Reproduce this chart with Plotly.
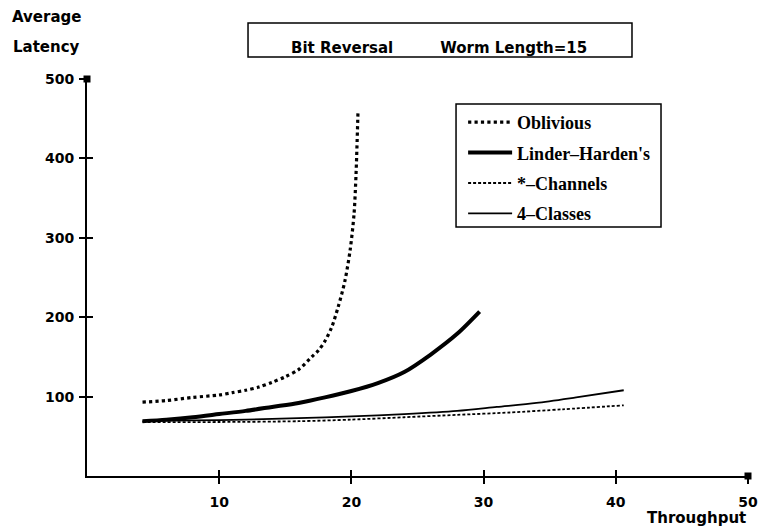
import plotly.graph_objects as go

# ---- data ----
obl_x = [4.2, 6, 8, 10, 11, 12, 13, 14, 15, 16, 17, 17.5, 18, 18.5, 19, 19.5, 19.9, 20.2, 20.35, 20.5]
obl_y = [93, 95, 99, 102, 105, 108, 112, 118, 125, 134, 150, 158, 170, 187, 213, 245, 284, 330, 380, 460]

lh_x = [4.2, 6, 8, 10, 12, 14, 16, 18, 20, 22, 24, 26, 28, 29.7]
lh_y = [69, 71, 74, 78, 82, 87, 92, 99, 107, 117, 131, 153, 179, 207]

ch_x = [4.2, 10, 16, 20, 24, 28, 32, 36, 40.6]
ch_y = [68, 68, 69, 71, 74, 77, 80, 84, 89]

c4_x = [4.2, 8, 12, 16, 20, 24, 28, 31, 34, 37, 40.6]
c4_y = [69, 70, 71, 73, 75, 78, 82, 87, 92, 99, 108]

x_ticks = [10, 20, 30, 40, 50]
y_ticks = [100, 200, 300, 400, 500]
X_RANGE = [0, 50]
Y_RANGE = [0, 500]

SANS = "DejaVu Sans"
SERIF = "Liberation Serif"

fig = go.Figure()

series = [
    ("Oblivious", obl_x, obl_y, dict(color="black", width=3.2, dash="dot")),
    ("Linder\u2013Harden's", lh_x, lh_y, dict(color="black", width=4)),
    ("*\u2013Channels", ch_x, ch_y, dict(color="black", width=1.8, dash="3px,2px")),
    ("4\u2013Classes", c4_x, c4_y, dict(color="black", width=1.8)),
]
for i, (name, xs, ys, ln) in enumerate(series):
    ln = dict(ln, shape="spline", smoothing=0.8)
    fig.add_trace(go.Scatter(x=xs, y=ys, mode="lines", name=name, line=ln,
                             legendgroup=f"g{i}"))

# axis-end squares (on overlay axes, which also carry the inward tick halves)
fig.add_trace(go.Scatter(x=[X_RANGE[0], X_RANGE[1]], y=[Y_RANGE[1], Y_RANGE[0]],
                         mode="markers", xaxis="x2", yaxis="y2",
                         marker=dict(symbol="square", size=7, color="black"),
                         showlegend=False, cliponaxis=False, hoverinfo="skip"))

axis_common = dict(showline=True, linecolor="black", linewidth=2, showgrid=False,
                   zeroline=False, ticklen=6, tickwidth=1.5, tickcolor="black",
                   automargin=False)

fig.update_layout(
    width=758, height=527,
    margin=dict(l=87, r=10, t=79, b=51, autoexpand=False),
    paper_bgcolor="white", plot_bgcolor="white",
    xaxis=dict(range=X_RANGE, tickvals=x_ticks, ticks="outside",
               tickfont=dict(family=SANS, size=14, color="black", weight="bold"),
               ticklabelstandoff=6, **axis_common),
    yaxis=dict(range=Y_RANGE, tickvals=y_ticks, ticks="outside",
               tickfont=dict(family=SANS, size=14, color="black", weight="bold"),
               ticklabelstandoff=2, **axis_common),
    xaxis2=dict(range=X_RANGE, tickvals=x_ticks, ticks="inside", showticklabels=False,
                overlaying="x", anchor="y2", **axis_common),
    yaxis2=dict(range=Y_RANGE, tickvals=y_ticks[:-1], ticks="inside", showticklabels=False,
                overlaying="y", anchor="x2", **axis_common),
    legend=dict(x=0.569, y=0.937, xanchor="left", yanchor="top",
                borderwidth=0, bgcolor="rgba(0,0,0,0)",
                font=dict(family=SERIF, size=18, color="black", weight="bold"),
                traceorder="grouped", tracegroupgap=4, itemwidth=44),
    showlegend=True,
)

# legend frame
fig.add_shape(type="rect", xref="paper", yref="paper",
              x0=0.5583, x1=0.8684, y0=0.6272, y1=0.9370,
              line=dict(color="black", width=1.5), layer="below")

# title box
fig.add_shape(type="rect", xref="paper", yref="paper",
              x0=0.2436, x1=0.8245, y0=1.0554, y1=1.141,
              line=dict(color="black", width=1.5))
fig.add_annotation(xref="paper", yref="paper", x=0.5325, y=1.078,
                   text="Bit Reversal" + "\u00a0" * 9 + "Worm Length=15",
                   showarrow=False, xanchor="center", yanchor="middle",
                   font=dict(family=SANS, size=15, color="black", weight="bold"))

# axis titles
for txt, x, y, xa in [("Average", -0.062, 1.156, "center"),
                      ("Latency", -0.062, 1.0806, "center"),
                      ("Throughput", 1.0, -0.106, "right")]:
    fig.add_annotation(xref="paper", yref="paper", x=x, y=y, text=txt,
                       showarrow=False, xanchor=xa, yanchor="middle",
                       font=dict(family=SANS, size=15, color="black", weight="bold"))

fig.write_html("out.html", config={"displayModeBar": False},
               post_script="document.body.style.margin='0';document.body.style.overflow='hidden';")
